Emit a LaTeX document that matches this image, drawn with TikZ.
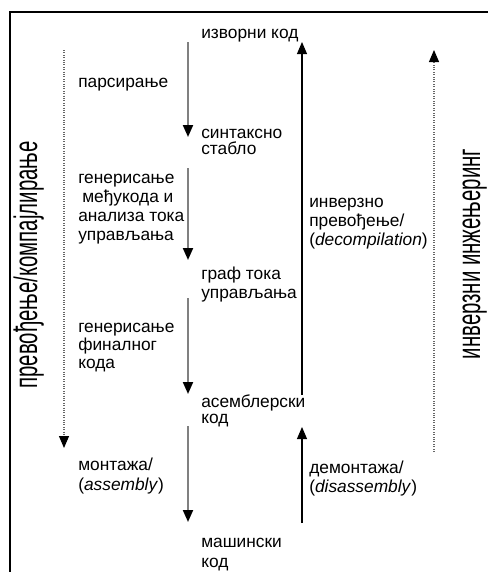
\documentclass[tikz,border=0pt]{standalone}
\usepackage{fontspec}
\setmainfont{Liberation Sans}
\usetikzlibrary{arrows.meta}
\begin{document}
\begin{tikzpicture}[x=0.75pt, y=-0.75pt, font=\fontsize{13}{14.25}\selectfont,
      t/.style={anchor=base west, align=left, inner sep=0pt},
      side/.style={anchor=base, inner sep=0pt, rotate=90, yscale=1.6,
                   font=\fontsize{15.3}{18}\selectfont},
      dn/.style={-{Triangle[length=9pt, width=7.5pt, color=black]}, draw=gray, line width=1.5pt},
      up/.style={-{Triangle[length=9pt, width=7.5pt]}, line width=0.8pt},
      dots/.style={-{Triangle[length=9pt, width=7.5pt, color=black]}, draw=black!60,
                   densely dotted, line width=0.8pt}]
    \useasboundingbox (0,0) rectangle (488,572);
    % frame
    \draw[line width=2.2pt] (10,572) -- (10,12) -- (488,12);
    % stages (placed at the baseline of their last line)
    \node[t] (izv) at (201,38) {изворни код};
    \node[t] (sint) at (201,154) {синтаксно\\[-2.25pt]стабло};
    \node[t] (graf) at (201,298) {граф тока\\управљања};
    \node[t] (asem) at (201,423) {асемблерски\\[-2.25pt]код};
    \node[t] (mas) at (201,567) {машински\\[0.75pt]код};
    % steps, compiling side
    \node[t] (pars) at (78,87) {парсирање};
    \node[t] (gen) at (78,240) {генерисање\\\hspace{3pt}међукода и\\анализа тока\\управљања};
    \node[t] (fin) at (78,368) {генерисање\\[-0.75pt]финалног\\[-0.75pt]кода};
    \node[t] (mont) at (78,490) {монтажа/\\[0.75pt](\textit{assembly})};
    % steps, reverse side
    \node[t] (inv) at (309,245) {инверзно\\превођење/\\(\textit{decompilation})};
    \node[t] (dem) at (309,492) {демонтажа/\\(\textit{disassembly})};
    % side titles
    \node[side] (komp) at (37,265) {превођење/компајлирање};
    \node[side] (rev) at (480,254) {инверзни инжењеринг};
    % arrow ends
    \coordinate (izvD) at (188,42);  \coordinate (sintU) at (188,137);
    \coordinate (sintD) at (188,168); \coordinate (grafU) at (188,260);
    \coordinate (grafD) at (188,298); \coordinate (asemU) at (188,394);
    \coordinate (asemD) at (188,426); \coordinate (masU) at (188,522);
    \coordinate (asemR) at (302,395); \coordinate (izvR) at (302,42);
    \coordinate (masR) at (302,523);  \coordinate (asemRU) at (302,427);
    \coordinate (kompT) at (64,50);   \coordinate (kompB) at (64,448);
    \coordinate (revB) at (434,452);  \coordinate (revT) at (434,50);
    \draw[dn] (izvD) -- (sintU); \draw[dn] (sintD) -- (grafU);
    \draw[dn] (grafD) -- (asemU); \draw[dn] (asemD) -- (masU);
    \draw[up] (asemR) -- (izvR); \draw[up] (masR) -- (asemRU);
    \draw[dots] (kompT) -- (kompB); \draw[dots] (revB) -- (revT);
  \end{tikzpicture}
\end{document}
